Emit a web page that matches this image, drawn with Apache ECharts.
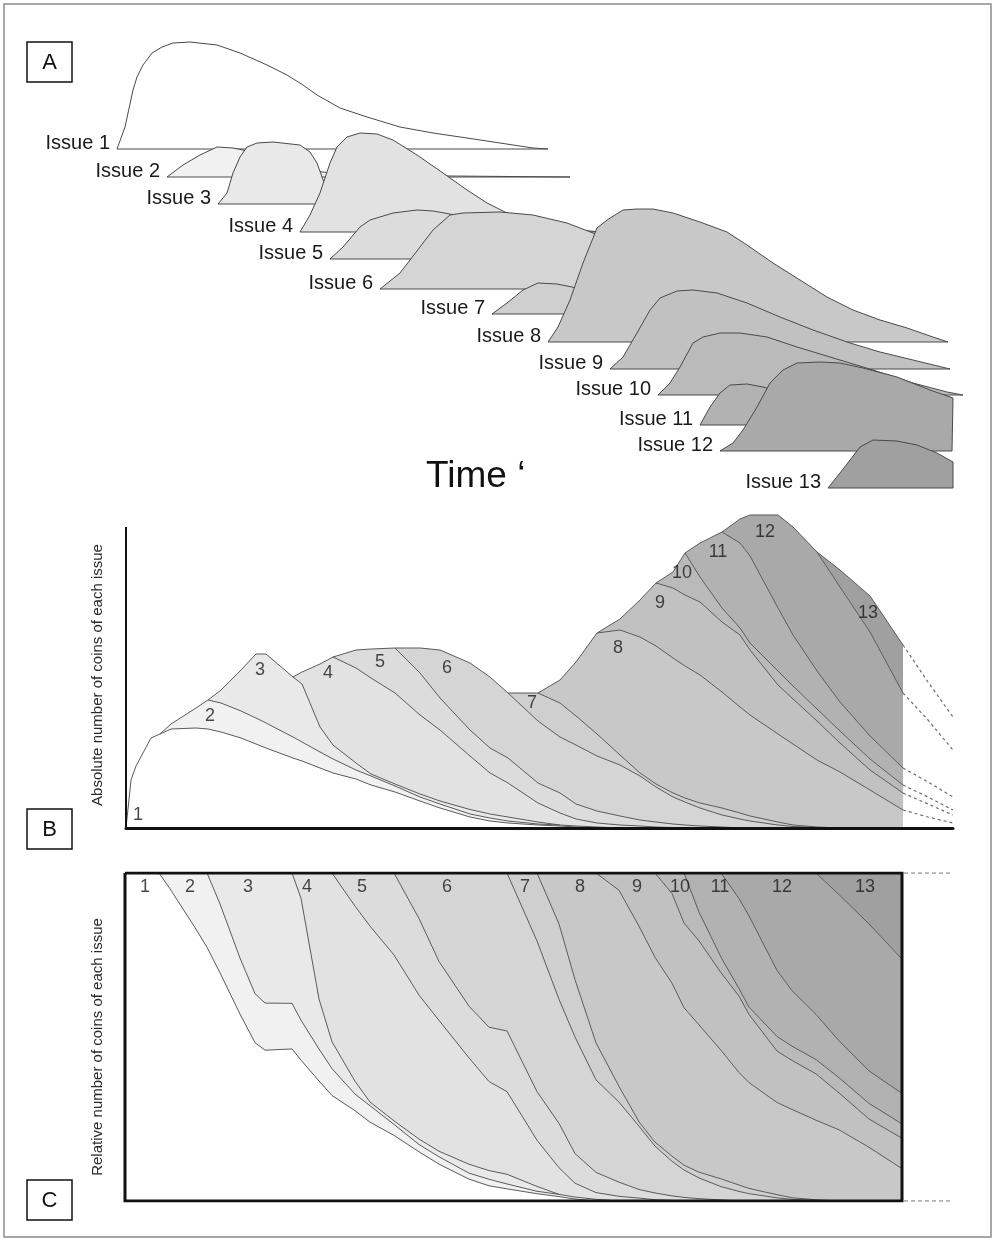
<!DOCTYPE html>
<html><head><meta charset="utf-8">
<script src="https://cdn.jsdelivr.net/npm/echarts@6/dist/echarts.min.js"></script>
<style>html,body{margin:0;padding:0;background:#fff}#c{width:995px;height:1242px}</style>
</head><body><div id="c"></div>
<script>
const _ = null; // issue not (or no longer) in circulation
const FONT = '"Liberation Sans", Arial, sans-serif';
const issueNames = ['Issue 1','Issue 2','Issue 3','Issue 4','Issue 5','Issue 6','Issue 7','Issue 8','Issue 9','Issue 10','Issue 11','Issue 12','Issue 13'];
const issueNums = ['1','2','3','4','5','6','7','8','9','10','11','12','13'];
const fills = ['#ffffff','#f1f1f1','#e9e9e9','#e2e2e2','#dcdcdc','#d5d5d5','#cfcfcf','#c8c8c8','#c1c1c1','#bababa','#b2b2b2','#a9a9a9','#a0a0a0'];

// ---------- Panel A: individual issue profiles [time, amount] and ridge baselines ----------
const ridgeBase = [351,323,296,268,241,211,186,158,131,105,75,49,12];
const a1 = [[-0.9,0],[-0.1,22],[0.7,59],[1.1,72],[1.7,84],[2.6,96],[3.6,102],[4.7,106],[6.4,107],[9.1,104],[11.4,96],[14.1,84],[16.1,74],[17.7,64],[19.1,54],[21.4,41],[24.1,32],[27.4,22],[30.7,16],[34.1,11],[37.4,6],[40.7,1],[42.2,0]];
const a2 = [[4.1,0],[5.7,12],[7.4,22],[9.1,30],[10.7,29],[11.7,27],[14.4,17],[17.4,9],[19.6,5],[23.4,2],[32.4,1],[44.4,0]];
const a3 = [[9.2,0],[10.1,11],[10.7,31],[11.4,47],[12.1,57],[13.1,61],[14.7,62],[17.4,59],[18.4,52],[19.1,41],[19.6,27],[20.1,14],[20.9,4],[21.9,0]];
const a4 = [[17.4,0],[18.4,17],[19.4,39],[20.4,69],[21.1,85],[22.1,95],[23.4,99],[25.1,98],[26.7,92],[29.1,77],[31.7,59],[34.1,42],[36.1,29],[38.1,19],[40.4,10],[43.4,4],[47.4,0]];
const a5 = [[20.4,0],[21.7,12],[23.4,32],[24.4,39],[26.7,46],[29.1,49],[30.7,48],[32.4,45],[35.4,37],[39.4,24],[43.4,9],[47.4,0]];
const a6 = [[25.4,0],[27.4,16],[29.4,42],[30.7,59],[32.4,74],[33.7,76],[37.4,77],[40.7,74],[44.1,66],[46.7,56],[49.4,44],[53.4,27],[57.4,11],[61.4,0]];
const a7 = [[36.6,0],[38.1,11],[39.7,24],[41.2,31],[43.1,30],[44.6,27],[47.4,19],[51.4,9],[55.4,0]];
const a8 = [[42.2,0],[43.2,15],[44.4,42],[45.7,79],[47.1,114],[48.1,122],[49.7,132],[51.1,133],[52.7,133],[54.7,129],[57.4,120],[60.1,110],[62.1,97],[64.7,79],[67.4,62],[70.1,45],[72.7,32],[75.4,22],[78.1,14],[80.7,5],[82.2,0]];
const a9 = [[48.4,0],[49.7,12],[51.1,36],[52.4,59],[53.4,71],[55.1,78],[56.7,79],[59.1,76],[62.1,66],[65.4,52],[68.7,39],[72.4,26],[75.4,17],[78.7,9],[82.4,0]];
const a10 = [[53.2,0],[54.4,12],[55.4,28],[56.7,52],[57.7,58],[59.4,62],[61.4,62],[64.1,58],[67.1,48],[70.4,38],[74.7,25],[78.7,12],[82.1,3],[83.7,0]];
const a11 = [[57.4,0],[58.4,18],[59.4,32],[60.4,40],[62.1,41],[63.7,38],[66.4,30],[70.4,17],[74.4,5],[76.4,0]];
const a12 = [[59.4,0],[60.7,8],[61.7,21],[63.1,44],[64.4,68],[65.7,81],[67.1,88],[69.4,89],[71.4,88],[73.7,83],[77.1,74],[80.4,61],[82.7,53],[82.6,0]];
const a13 = [[70.2,0],[71.4,15],[72.4,28],[73.4,41],[74.7,48],[77.1,47],[79.1,43],[81.1,35],[82.7,26],[82.7,0]];
const ridgeProfiles = [a1,a2,a3,a4,a5,a6,a7,a8,a9,a10,a11,a12,a13];

// ---------- Panel B: absolute numbers per issue on a shared time axis ----------
const tAxis = [0,0.5,1,2.5,3.4,4.5,7,8.2,9.5,11.5,13,14,16.7,17.6,19.4,20.7,23,24.5,26.9,29.4,31.4,34.4,36.4,38.2,41.2,43.4,45,47.1,49.4,51.4,53,54.7,55.9,57.4,59.6,61.4,62.4,65.2,66.7,69.1,71.4,74.4,77.7];
const abs1 = [0,48,62,90,94,99,100,99,96,90,84,80,70,67,60,55,49,43,36,27,20,11,7,5,3,2,1,0,_,_,_,_,_,_,_,_,_,_,_,_,_,_,_];
const abs2 = [_,_,_,_,0,5,20,29,29,27,26,25,21,19,16,14,9,9,6,4,4,3,3,2,1,1,1,1,0,_,_,_,_,_,_,_,_,_,_,_,_,_,_];
const abs3 = [_,_,_,_,_,_,_,0,13,41,64,69,60,58,25,14,7,2,2,3,3,4.5,4,4,2,0,_,_,_,_,_,_,_,_,_,_,_,_,_,_,_,_,_];
const abs4 = [_,_,_,_,_,_,_,_,_,_,_,_,0,12,63,88,95,96,91,79,71,53.5,41,34,19,12,7,4,3,2,1,0.5,0,_,_,_,_,_,_,_,_,_,_];
const abs5 = [_,_,_,_,_,_,_,_,_,_,_,_,_,_,_,0,18,29,45,42,32,26,25,25,20,20,15,12,9,6,5,3.5,3,2,1,0,_,_,_,_,_,_,_];
const abs6 = [_,_,_,_,_,_,_,_,_,_,_,_,_,_,_,_,_,_,0,25,48,67,71,65,62,56,59,55,51,44,35,27,23,18,12,9,7,3,1.5,0.5,0,_,_];
const abs7 = [_,_,_,_,_,_,_,_,_,_,_,_,_,_,_,_,_,_,_,_,_,_,_,0,28,34,29,22,10,3,3,4,4,5,7,6,5,3,1.5,0.5,0,_,_];
const abs8 = [_,_,_,_,_,_,_,_,_,_,_,_,_,_,_,_,_,_,_,_,_,_,_,_,0,23,54,101,125,136,138,135,132,128,116,106,101,88,81,67,56,38,18];
const abs9 = [_,_,_,_,_,_,_,_,_,_,_,_,_,_,_,_,_,_,_,_,_,_,_,_,_,_,_,0,11,37,63,70,71,73,70,72,65,49,45,39,29,20,17];
const abs10 = [_,_,_,_,_,_,_,_,_,_,_,_,_,_,_,_,_,_,_,_,_,_,_,_,_,_,_,_,_,_,0,16,42,25,14,7,7,14,13,12,12,11,8];
const abs11 = [_,_,_,_,_,_,_,_,_,_,_,_,_,_,_,_,_,_,_,_,_,_,_,_,_,_,_,_,_,_,_,_,0,34,76,85,87,63,51,38,29,23,17];
const abs12 = [_,_,_,_,_,_,_,_,_,_,_,_,_,_,_,_,_,_,_,_,_,_,_,_,_,_,_,_,_,_,_,_,_,_,0,24,41,93,108,119,115,104,75];
const abs13 = [_,_,_,_,_,_,_,_,_,_,_,_,_,_,_,_,_,_,_,_,_,_,_,_,_,_,_,_,_,_,_,_,_,_,_,_,_,_,_,0,17,36,48];
const absSeries = [abs1,abs2,abs3,abs4,abs5,abs6,abs7,abs8,abs9,abs10,abs11,abs12,abs13];

// projected continuation (dashed) for issues 8-13
const projT = [77.7,80.2,82.7];
const proj8 = [18,11,5];
const proj9 = [17,13,8];
const proj10 = [8,7,5];
const proj11 = [17,15,13];
const proj12 = [75,62,47];
const proj13 = [48,38,33];
const projSeries = [proj8,proj9,proj10,proj11,proj12,proj13];

// label anchors (time, stacked height) for panel B, and (time, percent) for panel C
const bLabelPos = [[1.2,13],[8.4,112],[13.4,158],[20.2,155],[25.4,166],[32.1,160],[40.6,125],[49.2,180],[53.4,225],[55.6,255],[59.2,276],[63.9,296],[74.2,215]];
const cLabelPos = [[2.0,95.7],[6.5,95.7],[12.3,95.7],[18.2,95.7],[23.7,95.7],[32.2,95.7],[40.0,95.7],[45.5,95.7],[51.2,95.7],[55.5,95.7],[59.5,95.7],[65.7,95.7],[74.0,95.7]];
const bAxisTop = 301; // drawn height of the vertical axis of panel B

// ---------- Panel C: relative share derived from panel B ----------
const totals = tAxis.map((_t, i) => absSeries.reduce((s, a) => s + (a[i] || 0), 0));
const relSeries = absSeries.map((a, k) => a.map((v, i) => v == null ? null : (totals[i] > 0 ? v / totals[i] * 100 : (k === 0 ? 100 : 0))));

const series = [];
// Panel A
ridgeProfiles.forEach((prof, k) => {
  const base = ridgeBase[k];
  series.push({
    type: 'custom', xAxisIndex: 0, yAxisIndex: 0, silent: true,
    data: prof,
    renderItem: function (params, api) {
      if (params.dataIndex !== 0) return null;
      const pts = prof.map(p => api.coord([p[0], base + p[1]]));
      const s = pts[0];
      return { type: 'group', children: [
        { type: 'polygon', shape: { points: pts }, style: { fill: fills[k], stroke: '#4a4a4a', lineWidth: 1 } },
        { type: 'text', x: s[0] - 7, y: s[1] - 6, style: { text: issueNames[k], fill: '#1a1a1a', fontSize: 20, fontFamily: 'Liberation Sans', align: 'right', verticalAlign: 'middle' } }
      ]};
    }
  });
});
// Panel B
absSeries.forEach((a, k) => {
  series.push({
    type: 'line', xAxisIndex: 1, yAxisIndex: 1, stack: 'abs', silent: true,
    data: tAxis.map((t, i) => [t, a[i]]),
    symbol: 'none', lineStyle: { color: '#5a5a5a', width: 1 },
    areaStyle: { color: fills[k], opacity: 1 }
  });
});
projSeries.forEach((p) => {
  series.push({
    type: 'line', xAxisIndex: 1, yAxisIndex: 1, stack: 'proj', silent: true,
    data: projT.map((t, i) => [t, p[i]]),
    symbol: 'none', lineStyle: { color: '#6e6e6e', width: 1.2, type: [3, 3] }
  });
});
series.push({
  type: 'line', xAxisIndex: 1, yAxisIndex: 1, silent: true, z: 5,
  data: [[0, 0], [0, bAxisTop]], symbol: 'none', lineStyle: { color: '#111', width: 2 }
});
series.push({
  type: 'scatter', xAxisIndex: 1, yAxisIndex: 1, silent: true, z: 6,
  symbolSize: 1, itemStyle: { color: 'rgba(0,0,0,0)' },
  data: bLabelPos.map((p, k) => ({ name: issueNums[k], value: p })),
  label: { show: true, position: 'inside', formatter: '{b}', fontSize: 18, color: '#1a1a1a', fontFamily: 'Liberation Sans' }
});
// Panel C
relSeries.forEach((a, k) => {
  series.push({
    type: 'line', xAxisIndex: 2, yAxisIndex: 2, stack: 'rel', silent: true,
    data: tAxis.map((t, i) => [t, a[i]]),
    symbol: 'none', lineStyle: { color: '#5a5a5a', width: 1 },
    areaStyle: { color: fills[k], opacity: 1 }
  });
});
series.push({
  type: 'line', xAxisIndex: 2, yAxisIndex: 2, silent: true, z: 5,
  data: [[0,100],[77.7,100],[77.7,0],[0,0],[0,100]],
  symbol: 'none', lineStyle: { color: '#111', width: 3, join: 'miter' }
});
series.push({
  type: 'line', xAxisIndex: 2, yAxisIndex: 2, silent: true, z: 5,
  data: [[77.9,100],[82.7,100]], symbol: 'none', lineStyle: { color: '#999', width: 1.5, type: [4, 3] }
});
series.push({
  type: 'line', xAxisIndex: 2, yAxisIndex: 2, silent: true, z: 5,
  data: [[77.9,0],[82.7,0]], symbol: 'none', lineStyle: { color: '#999', width: 1.5, type: [4, 3] }
});
series.push({
  type: 'scatter', xAxisIndex: 2, yAxisIndex: 2, silent: true, z: 6,
  symbolSize: 1, itemStyle: { color: 'rgba(0,0,0,0)' },
  data: cLabelPos.map((p, k) => ({ name: issueNums[k], value: p })),
  label: { show: true, position: 'inside', formatter: '{b}', fontSize: 18, color: '#1a1a1a', fontFamily: 'Liberation Sans' }
});

const hiddenAxis = (type, g, min, max) => ({ type: type, gridIndex: g, min: min, max: max, show: false, splitLine: { show: false } });

function boxLabel(x, y, w, h, letter) {
  return { type: 'group', children: [
    { type: 'rect', shape: { x: x, y: y, width: w, height: h }, style: { fill: '#fff', stroke: '#111', lineWidth: 1.5 } },
    { type: 'text', x: x + w / 2, y: y + h / 2 + 1, style: { text: letter, fontSize: 22, fontFamily: 'Liberation Sans', fill: '#111', align: 'center', verticalAlign: 'middle' } }
  ]};
}

const option = {
  animation: false,
  backgroundColor: '#fff',
  textStyle: { fontFamily: FONT },
  grid: [
    { left: 0, top: 0, width: 995, height: 500 },
    { left: 126, top: 508, width: 827, height: 320 },
    { left: 125, top: 873, width: 827, height: 328 }
  ],
  xAxis: [
    hiddenAxis('value', 0, -12.6, 86.9),
    // time-type base axis so that stacking is applied on the vertical (value) dimension
    { type: 'time', gridIndex: 1, min: 0, max: 82.7, z: 5,
      axisLine: { show: true, lineStyle: { color: '#111', width: 3 } },
      axisTick: { show: false }, axisLabel: { show: false }, splitLine: { show: false } },
    hiddenAxis('time', 2, 0, 82.7)
  ],
  yAxis: [
    hiddenAxis('value', 0, 0, 500),
    hiddenAxis('value', 1, 0, 320),
    hiddenAxis('value', 2, 0, 100)
  ],
  series: series,
  graphic: [
    { type: 'rect', shape: { x: 4, y: 4, width: 987, height: 1233 }, style: { fill: 'none', stroke: '#8c8c8c', lineWidth: 1.5 } },
    boxLabel(27, 42, 45, 40, 'A'),
    boxLabel(27, 809, 45, 40, 'B'),
    boxLabel(27, 1180, 45, 40, 'C'),
    { type: 'text', x: 426, y: 477, style: { text: 'Time \u2018', fontSize: 37, fontFamily: 'Liberation Sans', fill: '#111', align: 'left', verticalAlign: 'middle' } },
    { type: 'text', x: 98, y: 675, rotation: Math.PI / 2, style: { text: 'Absolute number of coins of each issue', fontSize: 15, fontFamily: 'Liberation Sans', fill: '#2a2a2a', align: 'center', verticalAlign: 'middle' } },
    { type: 'text', x: 98, y: 1047, rotation: Math.PI / 2, style: { text: 'Relative number of coins of each issue', fontSize: 15, fontFamily: 'Liberation Sans', fill: '#2a2a2a', align: 'center', verticalAlign: 'middle' } }
  ]
};
const chart = echarts.init(document.getElementById('c'), null, { renderer: 'canvas', width: 995, height: 1242 });
chart.setOption(option);
</script>
</body></html>
